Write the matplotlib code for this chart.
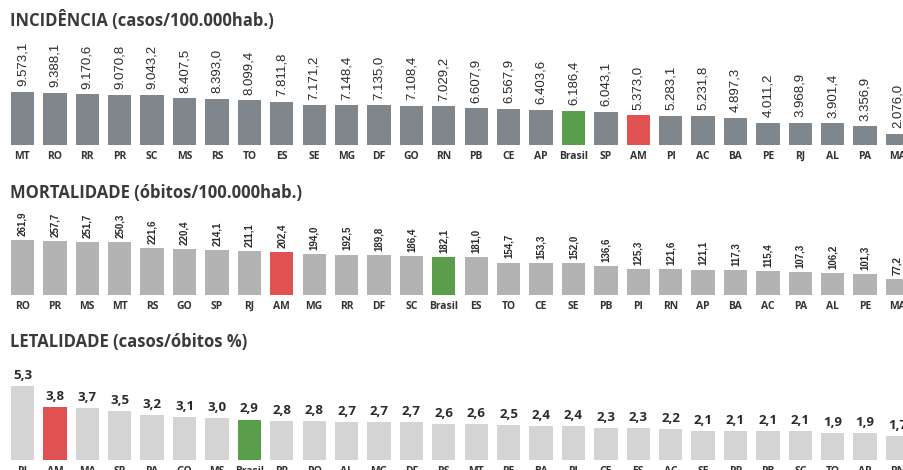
import matplotlib
matplotlib.use("Agg")
import matplotlib.pyplot as plt

# incidence per 100k inhabitants
inc_states = ["MT", "RO", "RR", "PR", "SC", "MS", "RS", "TO", "ES", "SE", "MG", "DF", "GO", "RN",
              "PB", "CE", "AP", "Brasil", "SP", "AM", "PI", "AC", "BA", "PE", "RJ", "AL", "PA", "MA"]
inc_values = [9573.1, 9388.1, 9170.6, 9070.8, 9043.2, 8407.5, 8393.0, 8099.4, 7811.8, 7171.2,
              7148.4, 7135.0, 7108.4, 7029.2, 6607.9, 6567.9, 6403.6, 6186.4, 6043.1, 5373.0,
              5283.1, 5231.8, 4897.3, 4011.2, 3968.9, 3901.4, 3356.9, 2076.0]

# deaths per 100k inhabitants
mort_states = ["RO", "PR", "MS", "MT", "RS", "GO", "SP", "RJ", "AM", "MG", "RR", "DF", "SC", "Brasil",
               "ES", "TO", "CE", "SE", "PB", "PI", "RN", "AP", "BA", "AC", "PA", "AL", "PE", "MA"]
mort_values = [261.9, 257.7, 251.7, 250.3, 221.6, 220.4, 214.1, 211.1, 202.4, 194.0, 192.5, 189.8,
               186.4, 182.1, 181.0, 154.7, 153.3, 152.0, 136.6, 125.3, 121.6, 121.1, 117.3, 115.4,
               107.3, 106.2, 101.3, 77.2]

# case fatality rate (%)
let_states = ["RJ", "AM", "MA", "SP", "PA", "GO", "MS", "Brasil", "PR", "RO", "AL", "MG", "DF", "RS",
              "MT", "PE", "BA", "PI", "CE", "ES", "AC", "SE", "RR", "PB", "SC", "TO", "AP", "RN"]
let_values = [5.3, 3.8, 3.7, 3.5, 3.2, 3.1, 3.0, 2.9, 2.8, 2.8, 2.7, 2.7, 2.7, 2.6,
              2.6, 2.5, 2.4, 2.4, 2.3, 2.3, 2.2, 2.1, 2.1, 2.1, 2.1, 1.9, 1.9, 1.7]

W, H = 904, 470
RED = "#e05252"
GREEN = "#5a9e4c"
TXT = "#3a3a3a"


def br(v, dec=1):
    s = f"{v:,.{dec}f}"
    return s.replace(",", "X").replace(".", ",").replace("X", ".")


fig = plt.figure(figsize=(W / 100, H / 100), dpi=100)


def panel(title, title_y, top, base, states, values, color, px_per_max, val_style):
    ax = fig.add_axes([0, (H - base) / H, 1, (base - top) / H])
    x = range(len(states))
    colors = []
    for s in states:
        if s == "Brasil":
            colors.append(GREEN)
        elif s == "AM":
            colors.append(RED)
        else:
            colors.append(color)
    bars = ax.bar(x, values, width=0.72, color=colors)
    ax.set_xlim(-0.694, 27.2)
    ax.set_ylim(0, max(values) * (base - top) / px_per_max)
    ax.set_xticks(list(x), states)
    ax.tick_params(axis="x", length=0, pad=4, labelsize=7.5)
    for lab in ax.get_xticklabels():
        lab.set_fontfamily("Open Sans")
        lab.set_fontweight("bold")
        lab.set_color("#333333")
    ax.set_yticks([])
    for sp in ax.spines.values():
        sp.set_visible(False)
    labels = [br(v) for v in values]
    ax.bar_label(bars, labels=labels, color="#2a2a2a", **val_style)
    fig.text(10 / W, 1 - title_y / H, title, fontsize=12, fontfamily="Open Sans",
             fontweight="bold", color=TXT, va="center", ha="left")
    return ax


panel("INCIDÊNCIA (casos/100.000hab.)", 20, 30, 145, inc_states, inc_values,
      "#80878c", 53,
      dict(rotation=90, padding=4, fontsize=9.5, fontfamily="Liberation Sans"))
panel("MORTALIDADE (óbitos/100.000hab.)", 193, 205, 295, mort_states, mort_values,
      "#b3b3b3", 55,
      dict(rotation=90, padding=3, fontsize=7, fontfamily="Liberation Sans", fontweight="bold"))
panel("LETALIDADE (casos/óbitos %)", 342, 360, 460, let_states, let_values,
      "#d4d4d4", 74,
      dict(padding=3, fontsize=9.5, fontfamily="Open Sans", fontweight="bold"))

fig.savefig("out.png", dpi=100)
